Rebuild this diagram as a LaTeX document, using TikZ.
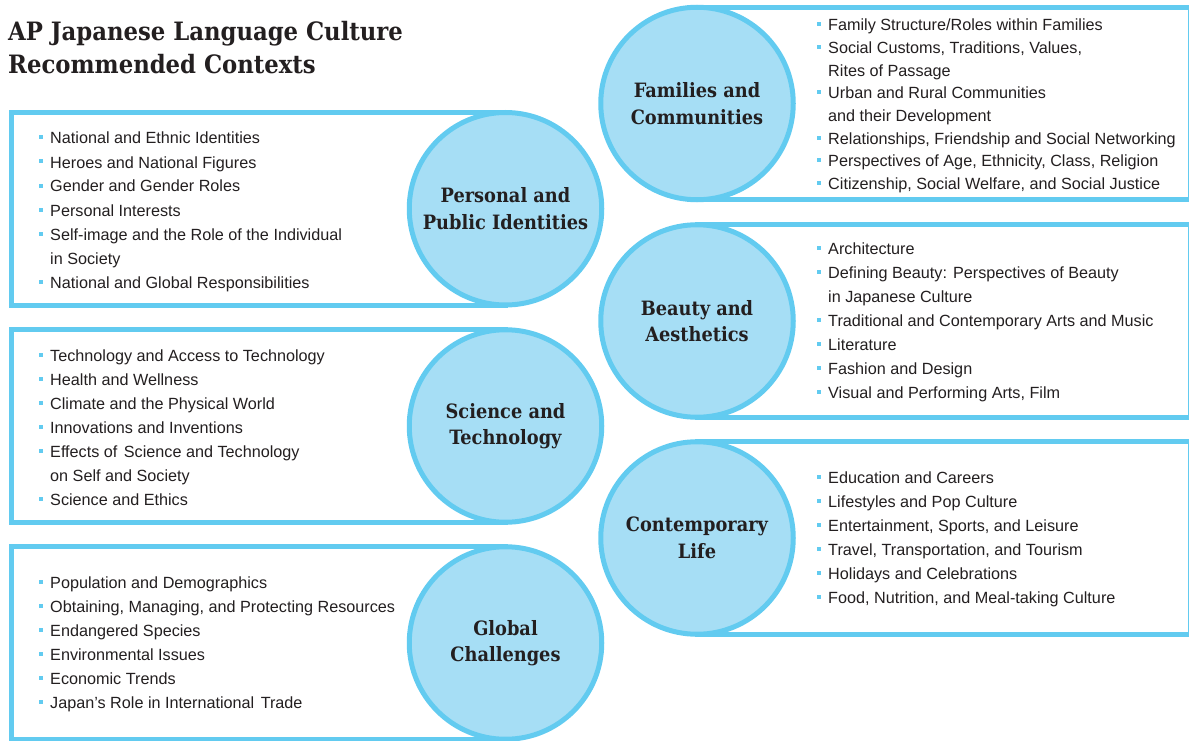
\documentclass[tikz,border=0pt]{standalone}
\usepackage{fontspec}
\setmainfont{Liberation Sans}
\newfontfamily\slab{DejaVu Serif Condensed}
\definecolor{edge}{HTML}{62CBF0}
\definecolor{bubblefill}{HTML}{A6DEF5}
\definecolor{ink}{HTML}{231F20}
\tikzset{
  boxline/.style={draw=edge, line width=5pt, fill=white},
  bubble/.style={circle, draw=edge, fill=bubblefill, line width=5pt, minimum size=192.5pt, inner sep=0pt,
    align=center, text=ink, font=\slab\bfseries\fontsize{19.75}{26.6}\selectfont},
  item/.style={anchor=base west, inner sep=0pt, text=ink, font=\fontsize{16.2}{20}\selectfont},
  bul/.style={rectangle, fill=edge, minimum size=4pt, inner sep=0pt},
  titletext/.style={anchor=base west, inner sep=0pt, text=ink, font=\slab\bfseries\fontsize{25.3}{30}\selectfont}
}
\newcommand\bitem[4]{\node[item] (#1) at (#2,#3) {#4};
  \node[bul] (#1b) at ([xshift=-9pt,yshift=6.5pt]#1.base west) {};}
\newcommand\citem[4]{\node[item] (#1) at (#2,#3) {#4};}
\newcommand\leftpanel[3]{\path[boxline] (11,#2-96.25) rectangle (505.5,#2+96.25);
  \node[bubble] (#1) at (505.5,#2) {#3};}
\newcommand\rightpanel[3]{\path[boxline] (697,#2-96.25) rectangle (1190.5,#2+96.25);
  \node[bubble] (#1) at (697,#2) {#3};}
\begin{document}
\begin{tikzpicture}[x=1pt,y=-1pt]
\useasboundingbox (0,0) rectangle (1189,741);
\node[titletext] (title1) at (8,40.7) {AP Japanese Language Culture};
\node[titletext] (title2) at (8,74) {Recommended Contexts};
% left panels
\leftpanel{personal}{208.75}{Personal and\\Public Identities}
\leftpanel{science}{426}{Science and\\Technology}
\leftpanel{global}{643}{Global\\Challenges}
% right panels
\rightpanel{families}{103.5}{Families and\\Communities}
\rightpanel{beauty}{321}{Beauty and\\Aesthetics}
\rightpanel{contemporary}{538}{Contemporary\\Life}
% personal items
\bitem{p1}{50}{144}{National and Ethnic Identities}
\bitem{p2}{50}{168}{Heroes and National Figures}
\bitem{p3}{50}{192}{Gender and Gender Roles}
\bitem{p4}{50}{216}{Personal Interests}
\bitem{p5}{50}{240}{Self-image and the Role of the Individual}
\citem{p6}{50}{264}{in Society}
\bitem{p7}{50}{288}{National and Global Responsibilities}
% science items
\bitem{s1}{50}{361}{Technology and Access to Technology}
\bitem{s2}{50}{385}{Health and Wellness}
\bitem{s3}{50}{409}{Climate and the Physical World}
\bitem{s4}{50}{433}{Innovations and Inventions}
\bitem{s5}{50}{457}{Effects of\hspace{0.4em}Science and Technology}
\citem{s6}{50}{481}{on Self and Society}
\bitem{s7}{50}{505}{Science and Ethics}
% global items
\bitem{g1}{50}{588}{Population and Demographics}
\bitem{g2}{50}{612}{Obtaining, Managing, and Protecting Resources}
\bitem{g3}{50}{636}{Endangered Species}
\bitem{g4}{50}{660}{Environmental Issues}
\bitem{g5}{50}{684}{Economic Trends}
\bitem{g6}{50}{708}{Japan’s Role in International\hspace{0.4em}Trade}
% families items
\bitem{f1}{828}{30.7}{Family Structure/Roles within Families}
\bitem{f2}{828}{53.4}{Social Customs, Traditions, Values,}
\citem{f3}{828}{76.1}{Rites of Passage}
\bitem{f4}{828}{98.8}{Urban and Rural Communities}
\citem{f5}{828}{121.5}{and their Development}
\bitem{f6}{828}{144.2}{Relationships, Friendship and Social Networking}
\bitem{f7}{828}{166.9}{Perspectives of Age, Ethnicity, Class, Religion}
\bitem{f8}{828}{189.6}{Citizenship, Social Welfare, and Social Justice}
% beauty items
\bitem{b1}{828}{254}{Architecture}
\bitem{b2}{828}{278}{Defining Beauty: Perspectives of Beauty}
\citem{b3}{828}{302}{in Japanese Culture}
\bitem{b4}{828}{326}{Traditional and Contemporary Arts and Music}
\bitem{b5}{828}{350}{Literature}
\bitem{b6}{828}{374}{Fashion and Design}
\bitem{b7}{828}{398}{Visual and Performing Arts, Film}
% contemporary items
\bitem{c1}{828}{483}{Education and Careers}
\bitem{c2}{828}{507}{Lifestyles and Pop Culture}
\bitem{c3}{828}{531}{Entertainment, Sports, and Leisure}
\bitem{c4}{828}{555}{Travel, Transportation, and Tourism}
\bitem{c5}{828}{579}{Holidays and Celebrations}
\bitem{c6}{828}{603}{Food, Nutrition, and Meal-taking Culture}
\end{tikzpicture}
\end{document}
